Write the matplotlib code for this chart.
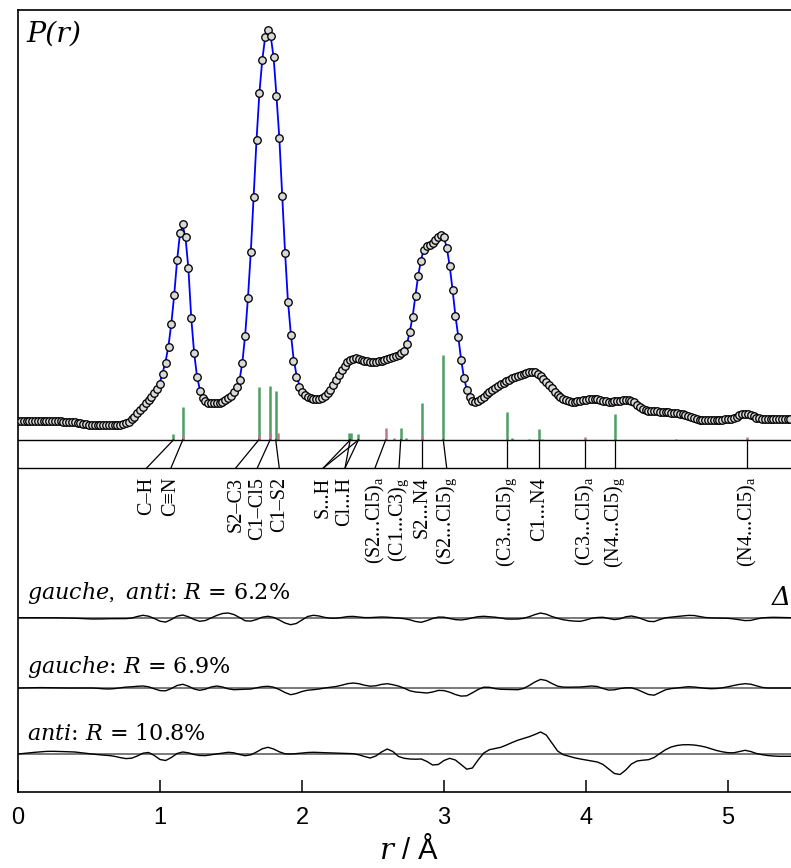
import numpy as np
import matplotlib
matplotlib.use('Agg')
import matplotlib.pyplot as plt

# 字体设置：刻度用无衬线，数学斜体用 DejaVu Serif
plt.rcParams['font.family'] = ['Liberation Sans', 'DejaVu Sans']
plt.rcParams['mathtext.fontset'] = 'custom'
plt.rcParams['mathtext.rm'] = 'Liberation Serif'
plt.rcParams['mathtext.it'] = 'DejaVu Serif:italic'

# 实验径向分布 P(r)，步长 0.02 Å，任意单位
p_exp = [
    19, 19, 19, 19, 19.5, 19.5, 19.5, 19.5, 19, 19, 19, 19, 19, 19, 19, 19,
    18.5, 18.5, 18.5, 18, 18, 17.5, 17, 16.5, 16, 15.5,
    15, 15, 15, 15, 15, 15, 15, 15, 15, 15,
    15.5, 16, 17, 18.5, 21, 23.5, 27, 30, 33.5, 37, 40.5, 43.5, 47, 51,
    56.5, 66, 77, 93, 116, 145, 180, 207, 216, 203, 172, 122, 87, 63, 49, 42, 39, 37.5, 36.7, 36.7,
    36.7, 37.3, 38.5, 40, 42, 44.5, 48.5, 53.5, 60, 77, 104, 142, 188, 243, 300, 347, 380, 403, 410, 404,
    383, 344, 302, 244, 187, 138, 105, 79, 63, 53.5, 48, 45, 43.3, 42, 41.2, 41, 41.2, 42, 44, 47,
    50, 55, 60, 65.5, 70, 74, 78, 80, 81.4, 81.6, 81, 80.2, 79.5, 78.8, 78.3, 78, 78, 78.8, 79.5, 80.2,
    81.3, 82.5, 83.5, 84.5, 85.5, 87, 89.3, 96, 108, 123, 144, 164, 179, 190, 194, 195.5, 197.5, 200.5, 203.5, 205.5,
    202.7, 192, 174, 150, 124, 103, 80, 62, 50, 43, 39.5, 38.5, 39, 41, 43.5, 46, 48.5, 50.5, 52.5, 54.3,
    56, 57.5, 59, 60.4, 61.8, 63, 64.2, 65.2, 66.2, 67, 67.8, 68.2, 67.8, 66.5, 64.2, 61.5, 58.5, 55.5, 52, 48.5,
    45.5, 43, 41, 39.7, 39, 38.5, 38.4, 38.6, 39.2, 39.8, 40.4, 40.9, 41, 41, 40.7, 40.2, 39.5, 39, 38.5, 38.4,
    38.7, 39, 39.3, 39.8, 40, 40, 39.4, 37.7, 35.5, 33.3, 31.5, 30.3, 29.3, 29, 29, 28.8, 28.5, 28.2, 28, 27.7,
    27.4, 27, 26.7, 26.3, 25.7, 24.8, 23.7, 22.7, 21.8, 21, 20.3, 19.9, 19.7, 19.7, 19.7, 19.9, 20, 20.2, 20.4, 20.6,
    21, 21.5, 22.3, 23.3, 24.6, 25.6, 26, 26, 25.2, 23.7, 22.5, 21.7, 21.3, 21, 20.9, 20.8, 20.7, 20.7, 20.7, 20.7,
    20.7, 20.7, 20.7,
]

# 差值曲线（实验 - 模型），步长 0.04 Å，按放大后的单位
delta_ga = [
    0.3, 0.3, 0.4, 0.4, 0.4, 0.4, 0.3, 0.2, 0.1, 0.0,
    -0.2, -0.5, -0.8, -1.0, -1.0, -0.9, -0.7, -0.7, -0.7, -0.6,
    -0.1, 1.5, 2.7, 1.8, -0.5, -3.2, -4.1, -1.5, 1.8, 3.0,
    1.2, -1.5, -3.3, -2.5, 0.0, 2.6, 4.5, 5.0, 3.5, 0.5,
    -2.8, -3.1, -1.5, 0.8, 1.7, 0.6, -2.0, -5.0, -6.7, -5.5,
    -2.0, 1.5, 2.7, 2.0, 0.6, -0.2, -0.2, 0.5, 1.4, 1.6,
    1.0, 0.4, 0.4, 0.7, 1.0, 0.8, 0.4, 0.0, -0.7, -1.8,
    -3.5, -4.3, -2.6, -0.5, 0.9, 0.8, -0.5, -1.6, -2.0, -1.2,
    0.2, 1.3, 1.7, 1.3, 0.8, 0.0, -1.0, -1.1, -1.0, -0.3,
    1.3, 3.4, 5.0, 3.8, 1.5, -0.3, -1.7, -2.6, -3.1, -3.3,
    -2.0, -0.3, 0.5, 0.7, -0.5, -1.6, -0.8, 1.2, 2.0, 0.8,
    -1.2, -3.3, -3.6, -1.5, 0.2, 0.9, 1.5, 2.1, 2.6, 2.5,
    1.5, 0.5, 0.1, 0.0, -0.1, -0.3, -0.9, -1.8, -2.6, -2.4,
    -1.0, 0.1, 0.5, 0.7, 0.6, 0.4, 0.3,
]
delta_g = [
    0.0, 0.1, 0.2, 0.3, 0.4, 0.3, 0.2, 0.1, 0.0, 0.0,
    0.0, 0.0, 0.0, 0.0, -0.3, -0.8, -1.0, -0.6, 0.2, 0.9,
    1.2, 1.7, 2.0, 1.2, -0.8, -2.6, -2.8, -0.5, 2.5, 3.7,
    1.8, -1.0, -2.3, -1.2, 1.0, 2.0, 1.0, -0.8, -1.7, -1.5,
    -1.3, -1.0, 0.2, 1.3, 1.7, 0.8, -1.5, -4.5, -6.7, -5.5,
    -3.5, -2.2, -1.7, -1.0, 0.0, 0.8, 1.5, 2.8, 4.3, 5.0,
    4.3, 2.8, 1.8, 2.2, 3.6, 4.3, 3.3, 1.9, -0.2, -2.8,
    -4.0, -4.5, -5.0, -4.0, -2.4, -2.6, -4.2, -6.5, -8.1, -7.8,
    -4.8, -1.5, 0.8, 0.7, -0.6, -1.3, -1.4, -1.5, -1.7, -0.5,
    2.5, 6.0, 8.6, 7.5, 4.5, 1.8, 0.9, 0.8, 0.9, 1.0,
    1.5, 2.0, 1.5, -0.5, -2.1, -1.8, -0.6, 0.2, 0.2, -1.5,
    -4.0, -6.5, -7.2, -4.5, -1.8, -0.6, 0.0, 0.7, 1.3, 1.0,
    0.3, -0.3, -0.7, -0.5, 0.2, 1.2, 2.5, 3.6, 4.3, 3.8,
    2.2, 0.6, 0.0, 0.0, 0.0, 0.0, 0.0,
]
delta_a = [
    0.0, 0.6, 1.2, 1.7, 2.2, 2.6, 2.7, 2.6, 2.4, 2.2,
    2.0, 1.3, 0.6, 0.0, -0.6, -1.1, -1.5, -2.3, -3.6, -4.6,
    -4.2, -2.0, 0.8, 1.5, -1.5, -5.5, -6.5, -3.5, 0.5, 2.0,
    1.2, -0.5, -1.5, -1.6, -0.8, 0.0, 0.9, 1.7, 1.2, -0.5,
    -1.7, -0.8, 2.0, 5.2, 6.7, 5.0, 2.2, 0.2, 0.0, 0.4,
    1.0, 1.5, 1.7, 1.5, 1.2, 1.0, 0.9, 0.7, 0.5, 0.3,
    -0.8, -2.5, -4.0, -2.0, 2.0, 5.0, 2.5, -2.5, -4.3, -5.0,
    -5.2, -5.0, -7.5, -11.0, -10.5, -6.5, -4.3, -6.0, -10.5, -15.2,
    -14.0, -6.0, 1.0, 4.3, 5.5, 6.7, 9.0, 11.5, 13.8, 15.5,
    17.3, 19.5, 22.0, 19.0, 11.0, 3.0, -0.7, -2.3, -3.8, -5.0,
    -6.0, -7.0, -8.0, -10.5, -15.0, -19.5, -20.5, -16.0, -10.0, -7.0,
    -6.2, -5.7, -3.5, 0.5, 4.3, 7.0, 8.5, 9.2, 9.3, 9.0,
    8.2, 7.0, 5.3, 3.5, 2.2, 1.3, 1.2, 2.5, 3.7, 2.5,
    0.5, -0.7, -1.5, -2.0, -2.3, -2.3, -2.3,
]
delta_names = [r'$gauche,\ anti$', r'$gauche$', r'$anti$']
r_factors = [6.2, 6.9, 10.8]
DELTA_SCALE = 2  # 差值曲线放大倍数

# 各距离的贡献（绿色 gauche，粉色 anti）
gauche_r = [1.094, 1.160, 1.695, 1.775, 1.815, 2.333, 2.345, 2.397, 2.695, 2.732,
            2.848, 2.995, 3.444, 3.479, 3.596, 3.671, 4.204, 4.634]
gauche_h = [6, 33, 53, 54, 49, 7, 7, 6, 12, 2, 37, 85, 28, 2, 1, 11, 26, 1]
anti_r = [1.160, 1.697, 1.777, 1.833, 2.589, 2.645, 2.848, 3.688, 3.993, 5.136]
anti_h = [4, 5, 7, 7, 12, 2, 4, 1, 3, 3]

# 距离标注
bond_labels = ['C–H', 'C≡N', 'S2–C3', 'C1–Cl5', 'C1–S2', 'S...H', 'Cl...H',
               r'(S2...Cl5)$_\mathrm{a}$', r'(C1...C3)$_\mathrm{g}$', 'S2...N4',
               r'(S2...Cl5)$_\mathrm{g}$', r'(C3...Cl5)$_\mathrm{g}$', 'C1...N4',
               r'(C3...Cl5)$_\mathrm{a}$', r'(N4...Cl5)$_\mathrm{g}$', r'(N4...Cl5)$_\mathrm{a}$']
bond_label_r = [0.906, 1.077, 1.533, 1.685, 1.840, 2.150, 2.303, 2.514, 2.683, 2.848,
                3.019, 3.444, 3.671, 3.993, 4.204, 5.136]
bond_targets = [[1.094], [1.160], [1.695], [1.775], [1.815], [2.339, 2.397], [2.339, 2.397],
                [2.589], [2.695], [2.848], [2.995], [3.444], [3.671], [3.993], [4.204], [5.136]]

r_exp = 0.02 * np.arange(len(p_exp))
r_delta = 0.04 * np.arange(len(delta_ga))
p_exp = np.array(p_exp)
p_model = p_exp - np.interp(r_exp, r_delta, delta_ga) / DELTA_SCALE

fig = plt.figure(figsize=(7.91, 8.68), dpi=100)
ax = fig.add_axes([18 / 791, 76 / 868, 781 / 791, 782 / 868])
ax.set_xlim(0, 5.5)
ax.set_ylim(-352, 430)

# 曲线：模型（蓝线）+ 实验点
ax.plot(r_exp, p_model, color='#0000ff', lw=1.3, zorder=3)
ax.plot(r_exp, p_exp, 'o', ms=5.4, mfc='#d9d9d9', mec='black', mew=0.95, zorder=4)

# 竖线贡献
ax.vlines(gauche_r, 0, gauche_h, colors='#4d9f62', lw=1.8, zorder=2)
ax.vlines(anti_r, 0, anti_h, colors='#c4738f', lw=1.8, zorder=2)
ax.axhline(0, color='black', lw=1.0, zorder=2)
ax.axhline(-28, color='black', lw=1.0, zorder=2)

for text, lr, targets in zip(bond_labels, bond_label_r, bond_targets):
    for t in targets:
        ax.plot([lr, t], [-28, 0], color='black', lw=0.9)
    ax.text(lr, -37, text, rotation=90, ha='center', va='top', fontsize=14.5,
            family=['Liberation Serif', 'DejaVu Serif'])

# 差值曲线
offsets = [-178, -248, -314]
label_y = [-159, -233, -300]
for d, off, ly, name, rf in zip([delta_ga, delta_g, delta_a], offsets, label_y, delta_names, r_factors):
    ax.axhline(off, color='#555555', lw=1.1)
    ax.plot(r_delta, off + np.array(d), color='black', lw=1.0)
    ax.text(0.061, ly, name + ': $R$ = ' + f'{rf}%', fontsize=16, family='DejaVu Serif',
            va='baseline')

ax.text(5.308, -165, 'Δ', fontsize=19, style='italic', family='DejaVu Serif', va='baseline')
ax.text(0.058, 419, 'P(r)', fontsize=20.5, style='italic', family='DejaVu Serif', va='top')

# 坐标轴
ax.spines['right'].set_visible(False)
for s in ['left', 'top', 'bottom']:
    ax.spines[s].set_linewidth(1.2)
ax.set_yticks([])
ax.set_xticks(range(6))
ax.tick_params(axis='x', direction='in', length=8.5, width=1.1, labelsize=17, pad=11)
ax.set_xlabel(r'$r$ / Å', fontsize=21, labelpad=4)

fig.savefig('out.png', dpi=100)
